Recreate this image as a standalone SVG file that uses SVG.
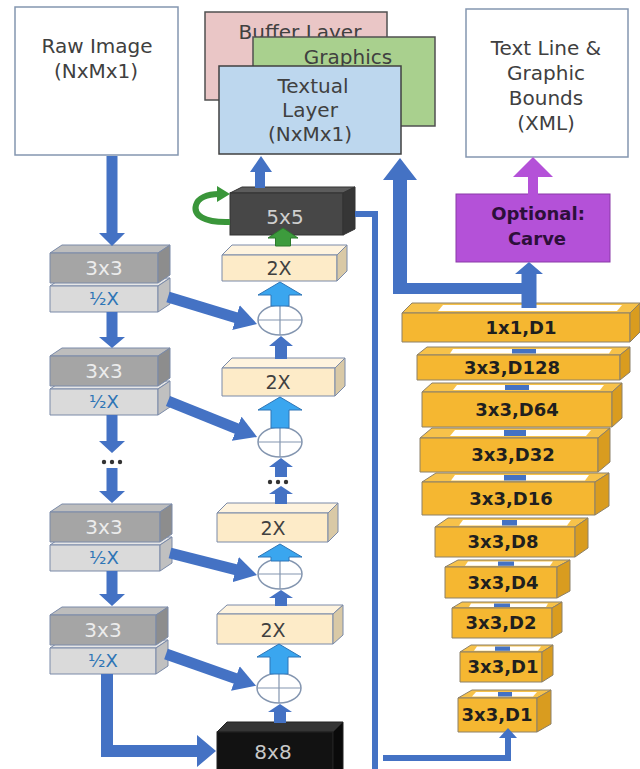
<svg xmlns="http://www.w3.org/2000/svg" width="640" height="769" viewBox="0 0 640 769">
  <style>
    .lbl { font-family: "DejaVu Sans", "Liberation Sans", sans-serif; font-size: 20px; fill: #404040; text-anchor: middle; }
    .stk { font-family: "DejaVu Sans", "Liberation Sans", sans-serif; font-size: 18px; font-weight: bold; fill: #1f1f1f; text-anchor: middle; }
    .box { fill: #ffffff; stroke: #8496b0; stroke-width: 1.5; }
    .edge { stroke: #7a8aa8; stroke-width: 1; stroke-linejoin: round; }
    .g-front { fill: #a5a5a5; } .g-top { fill: #bdbdbd; } .g-side { fill: #8d8d8d; }
    .h-front { fill: #dadada; } .h-top { fill: #e6e6e6; } .h-side { fill: #c0c0c0; }
    .c-front { fill: #fdebc8; } .c-top { fill: #fef3de; } .c-side { fill: #d9c9a6; }
    .y-front { fill: #f5b731; } .y-top { fill: #f7c24a; } .y-side { fill: #d99c1f; }
    .ystk { stroke: #8c8068; stroke-width: 1; stroke-linejoin: round; }
    .slot { fill: #ffffff; }
    .t33 { font-family: "DejaVu Sans", sans-serif; font-size: 20px; fill: #ececec; text-anchor: middle; }
    .thalf { font-family: "DejaVu Sans", sans-serif; font-size: 18px; fill: #2e75b6; text-anchor: middle; }
    .t2x { font-family: "DejaVu Sans", sans-serif; font-size: 19px; fill: #404040; text-anchor: middle; }
    .plus { fill: #ffffff; stroke: #8496b0; stroke-width: 1.5; }
    .blue { fill: #4472c4; }
    .lblue { fill: #3aa6ef; stroke: #2e75b6; stroke-width: 1; }
    .diag { stroke: #4472c4; stroke-width: 11; fill: none; marker-end: url(#hd); }
    .wire { stroke: #4472c4; stroke-width: 6; fill: none; stroke-linejoin: miter; }
  </style>
  <defs>
    <marker id="hd" markerUnits="userSpaceOnUse" markerWidth="24" markerHeight="26" viewBox="0 0 24 26" refX="8" refY="13" orient="auto">
      <path d="M0,0 L22,13 L0,26 z" fill="#4472c4"/>
    </marker>
  </defs>

  <!-- input / output boxes -->
  <g id="raw-image">
    <rect class="box" x="15" y="7" width="163" height="148"/>
    <text class="lbl" x="97" y="53">Raw Image</text>
    <text class="lbl" x="96" y="78">(NxMx1)</text>
  </g>
  <g id="buffer-layer">
    <rect x="205" y="12" width="182" height="88" fill="#eac6c6" stroke="#505050" stroke-width="1.5"/>
    <text class="lbl" x="300" y="39">Buffer Layer</text>
  </g>
  <g id="graphics-layer">
    <rect x="253" y="37" width="182" height="89" fill="#a9d08e" stroke="#505050" stroke-width="1.5"/>
    <text class="lbl" x="348" y="64">Graphics</text>
  </g>
  <g id="textual-layer">
    <rect x="219" y="66" width="182" height="88" fill="#bdd7ee" stroke="#404040" stroke-width="1.5"/>
    <text class="lbl" x="313" y="93">Textual</text>
    <text class="lbl" x="310" y="117">Layer</text>
    <text class="lbl" x="310" y="141">(NxMx1)</text>
  </g>
  <g id="bounds-xml">
    <rect class="box" x="466" y="9" width="162" height="148"/>
    <text class="lbl" x="546" y="55">Text Line &amp;</text>
    <text class="lbl" x="546" y="80">Graphic</text>
    <text class="lbl" x="546" y="105">Bounds</text>
    <text class="lbl" x="546" y="130">(XML)</text>
  </g>
  <g id="carve">
    <rect x="456" y="194" width="154" height="68" fill="#b451d8" stroke="#8a3aa8" stroke-width="1"/>
    <text class="stk" x="538" y="220" style="fill:#2d0f3a">Optional:</text>
    <text class="stk" x="537" y="245" style="fill:#2d0f3a">Carve</text>
  </g>

  <!-- encoder column: 3x3 conv + half-scale pooling -->
  <g id="enc1">
    <polygon class="h-top edge" points="50,286 62,278 170,278 158,286"/>
    <rect class="h-front edge" x="50" y="286" width="108" height="26"/>
    <polygon class="h-side edge" points="158,286 170,278 170,304 158,312"/>
    <polygon class="g-top edge" points="50,253 62,245 170,245 158,253"/>
    <rect class="g-front edge" x="50" y="253" width="108" height="30"/>
    <polygon class="g-side edge" points="158,253 170,245 170,275 158,283"/>
    <text class="t33" x="104" y="275">3x3</text>
    <text class="thalf" x="104" y="305">½X</text>
  </g>
  <g id="enc2">
    <polygon class="h-top edge" points="50,389 62,381 170,381 158,389"/>
    <rect class="h-front edge" x="50" y="389" width="108" height="26"/>
    <polygon class="h-side edge" points="158,389 170,381 170,407 158,415"/>
    <polygon class="g-top edge" points="50,356 62,348 170,348 158,356"/>
    <rect class="g-front edge" x="50" y="356" width="108" height="30"/>
    <polygon class="g-side edge" points="158,356 170,348 170,378 158,386"/>
    <text class="t33" x="104" y="378">3x3</text>
    <text class="thalf" x="104" y="408">½X</text>
  </g>
  <g id="enc3">
    <polygon class="h-top edge" points="50,545 62,537 172,537 160,545"/>
    <rect class="h-front edge" x="50" y="545" width="110" height="26"/>
    <polygon class="h-side edge" points="160,545 172,537 172,563 160,571"/>
    <polygon class="g-top edge" points="50,512 62,504 172,504 160,512"/>
    <rect class="g-front edge" x="50" y="512" width="110" height="30"/>
    <polygon class="g-side edge" points="160,512 172,504 172,534 160,542"/>
    <text class="t33" x="104" y="534">3x3</text>
    <text class="thalf" x="104" y="564">½X</text>
  </g>
  <g id="enc4">
    <polygon class="h-top edge" points="50,648 62,640 168,640 156,648"/>
    <rect class="h-front edge" x="50" y="648" width="106" height="26"/>
    <polygon class="h-side edge" points="156,648 168,640 168,666 156,674"/>
    <polygon class="g-top edge" points="50,615 62,607 168,607 156,615"/>
    <rect class="g-front edge" x="50" y="615" width="106" height="30"/>
    <polygon class="g-side edge" points="156,615 168,607 168,637 156,645"/>
    <text class="t33" x="103" y="637">3x3</text>
    <text class="thalf" x="103" y="667">½X</text>
  </g>
  <g id="enc-gap">
    <circle cx="104" cy="462" r="2.2" fill="#333"/>
    <circle cx="112" cy="462" r="2.2" fill="#333"/>
    <circle cx="120" cy="462" r="2.2" fill="#333"/>
  </g>

  <!-- decoder column: 2x upsampling + sums -->
  <g id="conv5">
    <polygon points="230,193 242,187 355,187 343,193" fill="#5c5c5c" stroke="#333" stroke-width="1"/>
    <rect x="230" y="193" width="113" height="42" fill="#474747" stroke="#333" stroke-width="1"/>
    <polygon points="343,193 355,187 355,229 343,235" fill="#363636" stroke="#333" stroke-width="1"/>
    <text class="t33" x="285" y="224" style="fill:#cfcfcf">5x5</text>
  </g>
  <g id="up1">
    <polygon class="c-top edge" points="222,255 232,245 347,245 337,255"/>
    <rect class="c-front edge" x="222" y="255" width="115" height="26"/>
    <polygon class="c-side edge" points="337,255 347,245 347,271 337,281"/>
    <text class="t2x" x="279" y="275">2X</text>
  </g>
  <g id="up2">
    <polygon class="c-top edge" points="222,368 232,358 345,358 335,368"/>
    <rect class="c-front edge" x="222" y="368" width="113" height="28"/>
    <polygon class="c-side edge" points="335,368 345,358 345,386 335,396"/>
    <text class="t2x" x="278" y="389">2X</text>
  </g>
  <g id="up3">
    <polygon class="c-top edge" points="217,513 227,503 338,503 328,513"/>
    <rect class="c-front edge" x="217" y="513" width="111" height="29"/>
    <polygon class="c-side edge" points="328,513 338,503 338,532 328,542"/>
    <text class="t2x" x="273" y="535">2X</text>
  </g>
  <g id="up4">
    <polygon class="c-top edge" points="217,614 227,605 343,605 333,614"/>
    <rect class="c-front edge" x="217" y="614" width="116" height="30"/>
    <polygon class="c-side edge" points="333,614 343,605 343,635 333,644"/>
    <text class="t2x" x="273" y="637">2X</text>
  </g>
  <g id="conv8">
    <polygon points="217,732 227,722 343,722 333,732" fill="#353535" stroke="#222" stroke-width="1"/>
    <rect x="217" y="732" width="116" height="44" fill="#121212" stroke="#222" stroke-width="1"/>
    <polygon points="333,732 343,722 343,769 333,776" fill="#0a0a0a" stroke="#222" stroke-width="1"/>
    <text class="t33" x="273" y="759" style="fill:#c8c8c8">8x8</text>
  </g>
  <g id="sum1">
    <ellipse class="plus" cx="280" cy="320" rx="22" ry="15"/>
    <path d="M258,320 H302 M280,305 V335" stroke="#8496b0" stroke-width="1.2"/>
  </g>
  <g id="sum2">
    <ellipse class="plus" cx="280" cy="442" rx="22" ry="15"/>
    <path d="M258,442 H302 M280,427 V457" stroke="#8496b0" stroke-width="1.2"/>
  </g>
  <g id="sum3">
    <ellipse class="plus" cx="280" cy="574" rx="22" ry="15"/>
    <path d="M258,574 H302 M280,559 V589" stroke="#8496b0" stroke-width="1.2"/>
  </g>
  <g id="sum4">
    <ellipse class="plus" cx="279" cy="688" rx="22" ry="15"/>
    <path d="M257,688 H301 M279,673 V703" stroke="#8496b0" stroke-width="1.2"/>
  </g>
  <g id="dec-gap">
    <circle cx="270" cy="482" r="2.2" fill="#333"/>
    <circle cx="278" cy="482" r="2.2" fill="#333"/>
    <circle cx="286" cy="482" r="2.2" fill="#333"/>
  </g>

  <!-- dilated convolution stack -->
  <g id="d1x1">
    <polygon class="y-top ystk" points="402,313 412,303 640,303 630,313"/>
    <polygon class="slot" points="438,311 443,305 622,305 617,311"/>
    <rect class="y-front ystk" x="402" y="313" width="228" height="29"/>
    <polygon class="y-side ystk" points="630,313 640,303 640,332 630,342"/>
    <text class="stk" x="521" y="334">1x1,D1</text>
  </g>
  <g id="d128">
    <polygon class="y-top ystk" points="417,355 427,347 630,347 620,355"/>
    <polygon class="slot" points="450,353.5 453,349 612,349 609,353.5"/>
    <rect class="y-front ystk" x="417" y="355" width="203" height="25"/>
    <polygon class="y-side ystk" points="620,355 630,347 630,372 620,380"/>
    <text class="stk" x="512" y="374">3x3,D128</text>
  </g>
  <g id="d64">
    <polygon class="y-top ystk" points="422,392 432,383 622,383 612,392"/>
    <polygon class="slot" points="453,390 457,385 604,385 600,390"/>
    <rect class="y-front ystk" x="422" y="392" width="190" height="35"/>
    <polygon class="y-side ystk" points="612,392 622,383 622,418 612,427"/>
    <text class="stk" x="517" y="416">3x3,D64</text>
  </g>
  <g id="d32">
    <polygon class="y-top ystk" points="420,438 432,428 610,428 598,438"/>
    <polygon class="slot" points="450,436 455,430 591,430 586,436"/>
    <rect class="y-front ystk" x="420" y="438" width="178" height="34"/>
    <polygon class="y-side ystk" points="598,438 610,428 610,462 598,472"/>
    <text class="stk" x="513" y="461">3x3,D32</text>
  </g>
  <g id="d16">
    <polygon class="y-top ystk" points="422,482 436,473 609,473 595,482"/>
    <polygon class="slot" points="451,480.5 455,475 589,475 585,480.5"/>
    <rect class="y-front ystk" x="422" y="482" width="173" height="33"/>
    <polygon class="y-side ystk" points="595,482 609,473 609,506 595,515"/>
    <text class="stk" x="511" y="505">3x3,D16</text>
  </g>
  <g id="d8">
    <polygon class="y-top ystk" points="435,527 448,518 588,518 575,527"/>
    <polygon class="slot" points="459,525.5 463,520 571,520 567,525.5"/>
    <rect class="y-front ystk" x="435" y="527" width="140" height="30"/>
    <polygon class="y-side ystk" points="575,527 588,518 588,548 575,557"/>
    <text class="stk" x="503" y="548">3x3,D8</text>
  </g>
  <g id="d4">
    <polygon class="y-top ystk" points="445,567 458,560 570,560 557,567"/>
    <polygon class="slot" points="465,565.8 468,561.5 553,561.5 550,565.8"/>
    <rect class="y-front ystk" x="445" y="567" width="112" height="31"/>
    <polygon class="y-side ystk" points="557,567 570,560 570,591 557,598"/>
    <text class="stk" x="503" y="589">3x3,D4</text>
  </g>
  <g id="d2">
    <polygon class="y-top ystk" points="452,608 462,602 562,602 552,608"/>
    <polygon class="slot" points="469,607 471,603.5 548,603.5 546,607"/>
    <rect class="y-front ystk" x="452" y="608" width="100" height="30"/>
    <polygon class="y-side ystk" points="552,608 562,602 562,632 552,638"/>
    <text class="stk" x="501" y="629">3x3,D2</text>
  </g>
  <g id="d1a">
    <polygon class="y-top ystk" points="460,652 471,645 553,645 542,652"/>
    <polygon class="slot" points="474,650.8 477,646.5 541,646.5 538,650.8"/>
    <rect class="y-front ystk" x="460" y="652" width="82" height="30"/>
    <polygon class="y-side ystk" points="542,652 553,645 553,675 542,682"/>
    <text class="stk" x="503" y="673">3x3,D1</text>
  </g>
  <g id="d1b">
    <polygon class="y-top ystk" points="458,698 472,690 551,690 537,698"/>
    <polygon class="slot" points="472,696.5 476,692 537,692 533,696.5"/>
    <rect class="y-front ystk" x="458" y="698" width="79" height="34"/>
    <polygon class="y-side ystk" points="537,698 551,690 551,724 537,732"/>
    <text class="stk" x="497" y="721">3x3,D1</text>
  </g>

  <!-- connectors -->
  <g id="connectors">
    <!-- encoder chain -->
    <polygon class="blue" points="106.5,156 117.5,156 117.5,233 125,233 112,246 99,233 106.5,233"/>
    <polygon class="blue" points="106.5,312 117.5,312 117.5,337 125,337 112,348 99,337 106.5,337"/>
    <polygon class="blue" points="106.5,415 117.5,415 117.5,441 125,441 112,453 99,441 106.5,441"/>
    <polygon class="blue" points="106.5,468 117.5,468 117.5,491 125,491 112,503 99,491 106.5,491"/>
    <polygon class="blue" points="106.5,571 117.5,571 117.5,594 125,594 112,606 99,594 106.5,594"/>
    <polygon class="blue" points="101,674 113,674 113,745 197,745 197,735 216,751 197,767 197,757 101,757"/>
    <!-- skip connections -->
    <line class="diag" x1="168" y1="297" x2="243.6" y2="319.9"/>
    <line class="diag" x1="168" y1="401" x2="244.1" y2="431.7"/>
    <line class="diag" x1="170" y1="553" x2="243.4" y2="571.6"/>
    <line class="diag" x1="166" y1="654" x2="242.9" y2="681.1"/>
    <!-- decoder: sum to 2X -->
    <polygon class="lblue" points="280,282 302,295 289,295 289,306 271,306 271,295 258,295"/>
    <polygon class="lblue" points="280,397 302,410 289,410 289,428 271,428 271,410 258,410"/>
    <polygon class="lblue" points="280,544 302,557 289,557 289,561 271,561 271,557 258,557"/>
    <polygon class="lblue" points="279,644 301,657 288,657 288,674 270,674 270,657 257,657"/>
    <!-- decoder: block to sum -->
    <polygon class="blue" points="281,336 293,346 287,346 287,359 275,359 275,346 269,346"/>
    <polygon class="blue" points="281,458 293,467 287,467 287,477 275,477 275,467 269,467"/>
    <polygon class="blue" points="281,486 293,494 287,494 287,504 275,504 275,494 269,494"/>
    <polygon class="blue" points="281,590 293,598 287,598 287,606 275,606 275,598 269,598"/>
    <polygon class="blue" points="280,704 292,712 286,712 286,723 274,723 274,712 268,712"/>
    <!-- 2X into 5x5 -->
    <polygon points="283,228 298,238 290.5,238 290.5,246 275.5,246 275.5,238 268,238" fill="#3d9b3d" stroke="#2c7a2c" stroke-width="1"/>
    <!-- recurrent loop on 5x5 -->
    <path d="M230,222 C204,223 193,215 196,205 C198,198 207,194 219,194" stroke="#3a963a" stroke-width="6" fill="none"/>
    <polygon points="217,186 230,194 217,202" fill="#3a963a"/>
    <!-- 5x5 to textual layer -->
    <polygon class="blue" points="255,188 265,188 265,172 272,172 261,156 250,172 255,172"/>
    <!-- 5x5 feed into the dilated stack -->
    <path class="wire" d="M355,214 H375 V769"/>
    <path class="wire" d="M383,758 H508 V737"/>
    <polygon class="blue" points="499,738 508,728 517,738"/>
    <!-- links between stack layers -->
    <rect class="blue" x="512" y="349" width="24" height="4.5"/>
    <rect class="blue" x="505" y="385" width="24" height="5"/>
    <rect class="blue" x="504" y="430" width="22" height="6"/>
    <rect class="blue" x="504" y="475" width="22" height="5.5"/>
    <rect class="blue" x="502" y="520" width="15" height="5.5"/>
    <rect class="blue" x="498" y="561.5" width="16" height="4.3"/>
    <rect class="blue" x="494" y="603.5" width="16" height="3.5"/>
    <rect class="blue" x="495" y="646.5" width="15" height="4.3"/>
    <rect class="blue" x="498" y="692" width="14" height="4.5"/>
    <!-- stack output to carve and textual layer -->
    <polygon class="blue" points="521.5,308 536.5,308 536.5,274 543,274 529,262 515,274 521.5,274"/>
    <polygon class="blue" points="522,283 522,294 393,294 393,180 383,180 400,158 417,180 407,180 407,283"/>
    <polygon points="528,195 538,195 538,177 553,177 533,157 513,177 528,177" fill="#b451d8"/>
  </g>
</svg>
